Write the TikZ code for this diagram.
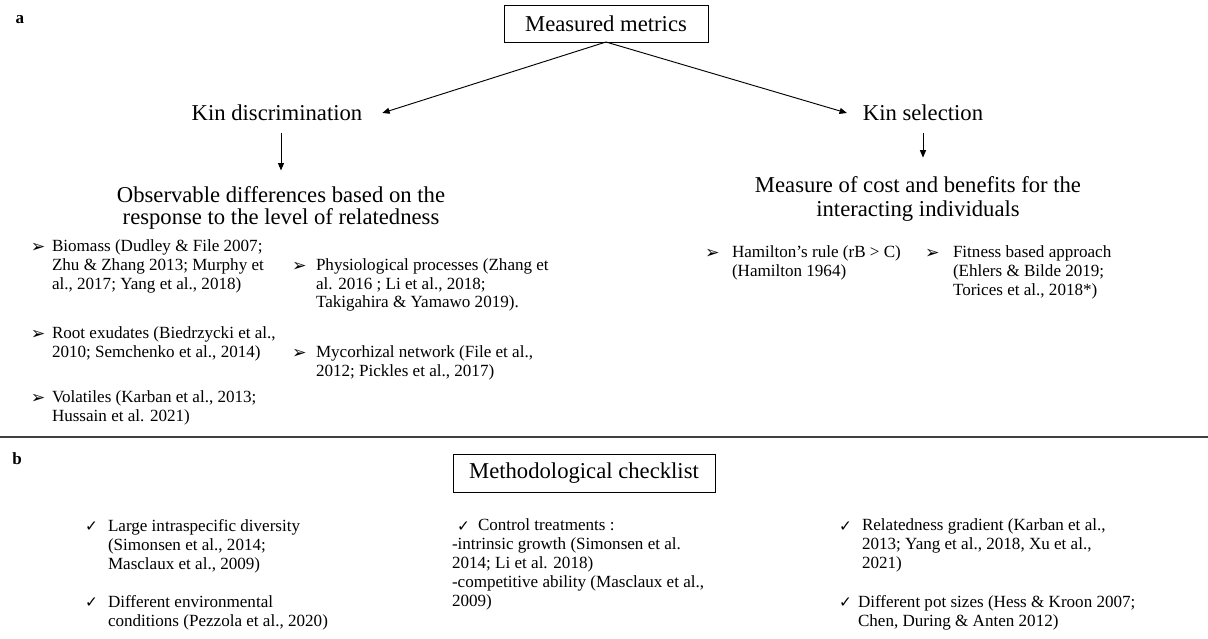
\documentclass[tikz,border=0pt]{standalone}
\usepackage{fontspec}
\setmainfont{Liberation Serif}
\newfontfamily\symfont{DejaVu Sans}
\usetikzlibrary{arrows.meta}
\begin{document}
\begin{tikzpicture}[x=0.75pt,y=-0.75pt,
  every node/.style={inner sep=0pt, outer sep=0pt},
  hd/.style={font=\fontsize{17}{16.8}\selectfont, align=center},
  item/.style={font=\fontsize{12.8}{14}\selectfont, align=left, anchor=north west},
  chk/.style={font=\fontsize{12.8}{14.25}\selectfont, align=left, anchor=north west},
  arrowbul/.style={font=\symfont\fontsize{13}{13}\selectfont, anchor=west},
  checkbul/.style={font=\symfont\fontsize{11.5}{12}\selectfont, anchor=west},
  tbox/.style={draw, line width=0.75pt, font=\fontsize{17}{18}\selectfont},
  conn/.style={line width=0.7pt, -{Triangle[length=5.5pt,width=4.5pt]}},
  panel/.style={font=\bfseries\fontsize{12.8}{14}\selectfont},
  sep/.style={line width=1pt, draw=black!75}
]
\useasboundingbox (0,0) rectangle (1208,639);

% panel labels
\node[panel] (pa) at (20,20) {a};
\node[panel] (pb) at (17,459) {b};

% panel a
\node[tbox, minimum width=153pt, minimum height=27.75pt] (mm) at (606,23.5) {Measured metrics};
\node[hd] (kd) at (277,113) {Kin discrimination};
\node[hd] (ks) at (923,113) {Kin selection};
\node[hd] (od) at (281,208) {Observable differences based on the\\response to the level of relatedness};
\node[hd, font=\fontsize{17}{18.5}\selectfont] (mc) at (918,199) {Measure of cost and benefits for the\\interacting individuals};

\draw[conn] (mm.south) -- ([xshift=15pt]kd.east);
\draw[conn] (mm.south) -- ([xshift=-12pt]ks.west);
\coordinate (d1) at (kd.south -| od.north);
\draw[conn] ([yshift=-9pt]d1) -- ([yshift=12pt]od.north);
\coordinate (d2) at (mc.north -| ks.south);
\draw[conn] ([yshift=-9pt]ks.south) -- ([yshift=14pt]d2);

% discrimination bullets
\node[arrowbul] (b1) at (31,248) {➢};
\node[item] (t1) at (52,240) {Biomass (Dudley \& File 2007;\\Zhu \& Zhang 2013; Murphy et\\al., 2017; Yang et al., 2018)};
\node[arrowbul] (b2) at (292,266.7) {➢};
\node[item] (t2) at (316,258.7) {Physiological processes (Zhang et\\al. 2016 ; Li et al., 2018;\\Takigahira \& Yamawo 2019).};
\node[arrowbul] (b3) at (31,335) {➢};
\node[item] (t3) at (52,327) {Root exudates (Biedrzycki et al.,\\2010; Semchenko et al., 2014)};
\node[arrowbul] (b4) at (292,353.7) {➢};
\node[item] (t4) at (316,345.7) {Mycorhizal network (File et al.,\\2012; Pickles et al., 2017)};
\node[arrowbul] (b5) at (31,399) {➢};
\node[item] (t5) at (52,391) {Volatiles (Karban et al., 2013;\\Hussain et al. 2021)};

% selection bullets
\node[arrowbul] (b6) at (705,254) {➢};
\node[item] (t6) at (732,246) {Hamilton’s rule (rB > C)\\(Hamilton 1964)};
\node[arrowbul] (b7) at (925,254) {➢};
\node[item] (t7) at (953,246) {Fitness based approach\\(Ehlers \& Bilde 2019;\\Torices et al., 2018*)};

% separator
\coordinate (sl) at (0,437);
\coordinate (sr) at (1208,437);
\draw[sep] (sl) -- (sr);

% panel b
\node[tbox, minimum width=196.5pt, minimum height=28.5pt] (mcl) at (584,473) {Methodological checklist};

\node[checkbul] (c1) at (85,527) {✓};
\node[chk] (ct1) at (108,519) {Large intraspecific diversity\\(Simonsen et al., 2014;\\Masclaux et al., 2009)};
\node[checkbul] (c2) at (85,603) {✓};
\node[chk] (ct2) at (108,595) {Different environmental\\conditions (Pezzola et al., 2020)};

\node[checkbul] (c3) at (457,527) {✓};
\node[chk] (ct3) at (478,519) {Control treatments :};
\node[chk] (ct4) at (452,538) {-intrinsic growth (Simonsen et al.\\2014; Li et al. 2018)\\-competitive ability (Masclaux et al.,\\2009)};

\node[checkbul] (c5) at (839,527) {✓};
\node[chk] (ct5) at (862,519) {Relatedness gradient (Karban et al.,\\2013; Yang et al., 2018, Xu et al.,\\2021)};
\node[checkbul] (c6) at (839,603) {✓};
\node[chk] (ct6) at (858,595) {Different pot sizes (Hess \& Kroon 2007;\\Chen, During \& Anten 2012)};
\end{tikzpicture}
\end{document}
